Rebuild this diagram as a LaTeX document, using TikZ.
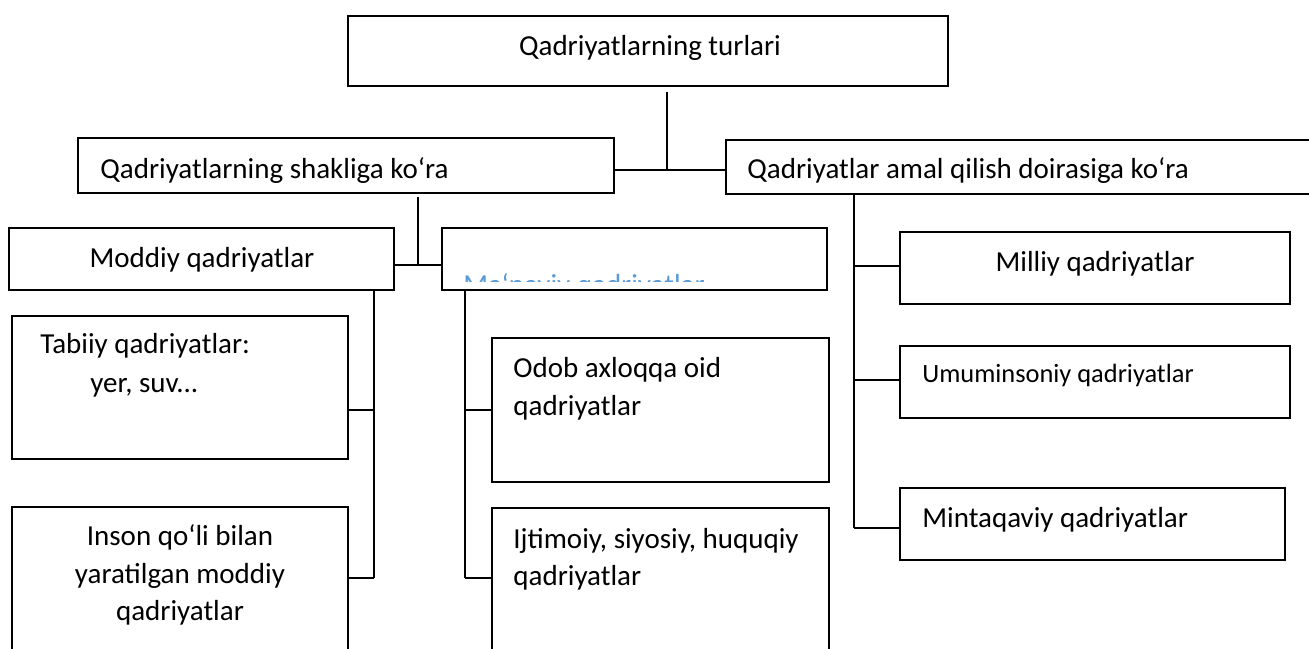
\documentclass[tikz,border=0pt]{standalone}
\usepackage{fontspec}
\setmainfont{Carlito}
\usetikzlibrary{fit}
\definecolor{manblue}{RGB}{91,155,213}
\begin{document}
\begin{tikzpicture}[x=0.5pt,y=-0.5pt,
  box/.style={draw, line width=0.9pt, inner sep=0pt, outer sep=0pt},
  conn/.style={draw, line width=0.9pt},
  txt/.style={inner sep=0pt, font=\fontsize{14.5}{19}\selectfont},
  smalltxt/.style={inner sep=0pt, font=\fontsize{13.2}{17}\selectfont}]
\useasboundingbox (0,0) rectangle (1309,648);
\fill[white] (0,0) rectangle (1309,648);
\clip (0,0) rectangle (1309,648);

% boxes
\node[box, fit={(348,16) (948,86)}] (top) {};
\node[box, fit={(78,138) (614,193)}] (shak) {};
\node[box, fit={(726,140) (1400,194)}] (amal) {};
\node[box, fit={(9,228) (394,290)}] (mod) {};
\node[box, fit={(442,228) (827,290)}] (man) {};
\node[box, fit={(12,316) (348,459)}] (tab) {};
\node[box, fit={(12,507) (348,700)}] (ins) {};
\node[box, fit={(492,338) (829,482)}] (odob) {};
\node[box, fit={(492,508) (829,700)}] (ijt) {};
\node[box, fit={(900,232) (1290,304)}] (mil) {};
\node[box, fit={(900,346) (1290,418)}] (umu) {};
\node[box, fit={(900,488) (1285,560)}] (min) {};

% texts
\node[txt, anchor=base] (ttop) at (650,55) {Qadriyatlarning turlari};
\node[txt, anchor=base west] (tshak) at (100,178) {Qadriyatlarning shakliga ko‘ra};
\node[txt, anchor=base west] (tamal) at (747,178) {Qadriyatlar amal qilish doirasiga ko‘ra};
\node[txt, anchor=base] (tmod) at (202,267) {Moddiy qadriyatlar};
\begin{scope}
  \clip (444,270) rectangle (825,281);
  \node[txt, anchor=base west, text=manblue] (tman) at (463,294) {Ma‘naviy qadriyatlar};
\end{scope}
\node[txt, anchor=base west] (ttab1) at (40,353) {Tabiiy qadriyatlar:};
\node[txt, anchor=base west] (ttab2) at (90,392) {yer, suv...};
\node[txt, anchor=base] (tins1) at (180,545) {Inson qo‘li bilan};
\node[txt, anchor=base] (tins2) at (180,583) {yaratilgan moddiy};
\node[txt, anchor=base] (tins3) at (180,620) {qadriyatlar};
\node[txt, anchor=base west] (todob1) at (513,377) {Odob axloqqa oid};
\node[txt, anchor=base west] (todob2) at (513,415) {qadriyatlar};
\node[txt, anchor=base west] (tijt1) at (513,548) {Ijtimoiy, siyosiy, huquqiy};
\node[txt, anchor=base west] (tijt2) at (513,585) {qadriyatlar};
\node[txt, anchor=base] (tmil) at (1095,271) {Milliy qadriyatlar};
\node[smalltxt, anchor=base west] (tumu) at (922,382) {Umuminsoniy qadriyatlar};
\node[txt, anchor=base west] (tmin) at (922,527) {Mintaqaviy qadriyatlar};

% connectors: top level
\coordinate (j1) at (667,170);
\draw[conn, shorten <=3pt] (top.south -| j1) -- (j1);
\draw[conn] (shak.east |- j1) -- (amal.west |- j1);

% shakliga -> moddiy / ma'naviy
\coordinate (j2) at (418,265);
\draw[conn, shorten <=2pt] (shak.south -| j2) -- (j2);
\draw[conn] (mod.east |- j2) -- (man.west |- j2);

% moddiy branch
\coordinate (m1) at (374,410);
\coordinate (m2) at (374,578);
\draw[conn] (mod.south -| m1) -- (m2);
\draw[conn] (tab.east |- m1) -- (m1);
\draw[conn] (ins.east |- m2) -- (m2);

% ma'naviy branch
\coordinate (n1) at (465,410);
\coordinate (n2) at (465,578);
\draw[conn] (man.south -| n1) -- (n2);
\draw[conn] (n1) -- (odob.west |- n1);
\draw[conn] (n2) -- (ijt.west |- n2);

% amal branch
\coordinate (a1) at (854,266);
\coordinate (a2) at (854,380);
\coordinate (a3) at (854,528);
\draw[conn] (amal.south -| a1) -- (a3);
\draw[conn] (a1) -- (mil.west |- a1);
\draw[conn] (a2) -- (umu.west |- a2);
\draw[conn] (a3) -- (min.west |- a3);
\end{tikzpicture}
\end{document}
